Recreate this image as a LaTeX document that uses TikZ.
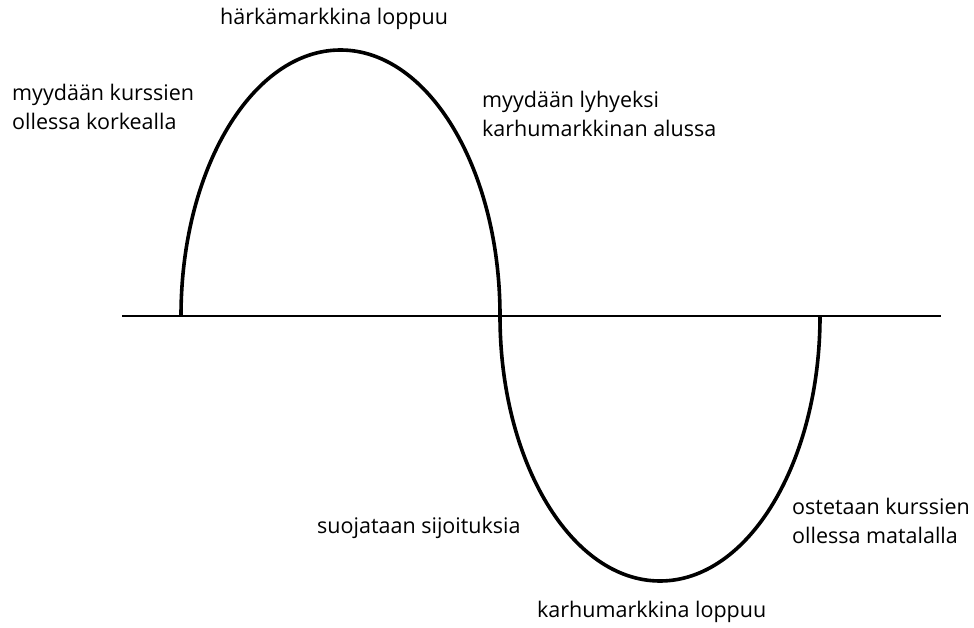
\documentclass[tikz,border=0pt]{standalone}
\usepackage{fontspec}
\setmainfont{Open Sans}
\begin{document}
\begin{tikzpicture}[
  x=1pt,
  y=-1pt,
  curve/.style={draw=black,line width=3.6pt},
  axis/.style={draw=black,line width=1.3pt},
  note/.style={anchor=base west,inner sep=0pt,align=left,font=\fontsize{21.5}{29}\selectfont}
]
  \useasboundingbox (0,0) rectangle (974,628);
  \draw[axis] (122,316)--(941,316);
  % bull and bear arcs
  \draw[curve] (181,316) arc[start angle=180,end angle=0,x radius=159.5,y radius=-266];
  \draw[curve] (500,316) arc[start angle=180,end angle=360,x radius=160,y radius=-265];

  % labels (base = last line)
  \node[note] (top) at (220,25) {härkämarkkina loppuu};
  \node[note] (sellhigh) at (12,130) {myydään kurssien\\ollessa korkealla};
  \node[note] (sellshort) at (482,137) {myydään lyhyeksi\\karhumarkkinan alussa};
  \node[note] (hedge) at (317,533) {suojataan sijoituksia};
  \node[note] (buylow) at (792,543) {ostetaan kurssien\\ollessa matalalla};
  \node[note] (bottom) at (537,617) {karhumarkkina loppuu};
\end{tikzpicture}
\end{document}
